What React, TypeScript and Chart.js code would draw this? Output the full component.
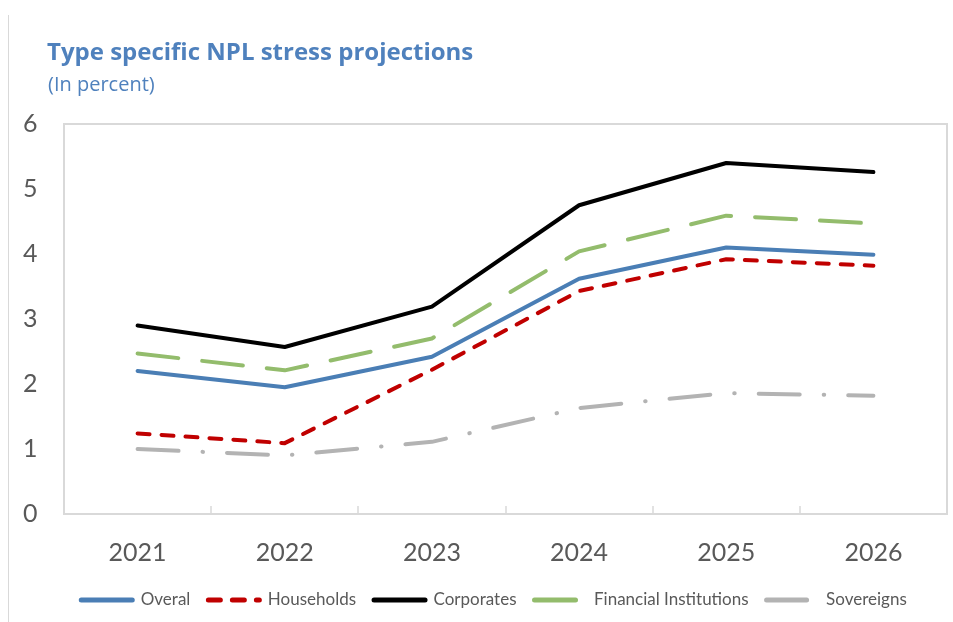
import React, { useEffect, useRef } from "react";
import { Chart, registerables } from "chart.js";

Chart.register(...registerables);

// ---- data ----
const years = ["2021", "2022", "2023", "2024", "2025", "2026"];
const overal = [2.2, 1.95, 2.42, 3.62, 4.1, 3.99];
const households = [1.24, 1.09, 2.22, 3.43, 3.92, 3.82];
const corporates = [2.9, 2.57, 3.19, 4.75, 5.4, 5.26];
const financialInstitutions = [2.47, 2.21, 2.7, 4.04, 4.59, 4.47];
const sovereigns = [1.0, 0.9, 1.11, 1.63, 1.86, 1.82];
const seriesNames = ["Overal", "Households", "Corporates", "Financial Institutions", "Sovereigns"];
const yMin = 0;
const yMax = 6;
const yStep = 1;
const titleText = "Type specific NPL stress projections";
const subtitleText = "(In percent)";

// ---- styles ----
const colors = ["#4A7EB5", "#C00000", "#000000", "#93BC6C", "#B3B3B3"];
const lineDashes = [[], [12, 12], [], [41, 24], [41, 24, 0.5, 24]];
const legendDashes = [[], [12, 12], [], [41, 100], [40, 100]];
const textColor = "#595959";
const FONT = "Lato, 'Open Sans', sans-serif";
const TITLE_FONT = "'Open Sans', Lato, sans-serif";

const frame = {
  id: "frame",
  beforeDatasetsDraw(chart: any) {
    const { ctx, chartArea: a, scales } = chart;
    const x = scales.x;
    ctx.save();
    ctx.strokeStyle = "#D9D9D9";
    ctx.lineWidth = 2;
    ctx.strokeRect(a.left, a.top, a.right - a.left, a.bottom - a.top);
    ctx.lineWidth = 1.5;
    for (let i = 1; i < years.length; i++) {
      const px = Math.round((x.getPixelForValue(i - 1) + x.getPixelForValue(i)) / 2);
      ctx.beginPath();
      ctx.moveTo(px, a.bottom);
      ctx.lineTo(px, a.bottom - 8);
      ctx.stroke();
    }
    ctx.restore();
  },
};

export default function App() {
  const ref = useRef<HTMLCanvasElement | null>(null);

  useEffect(() => {
    if (!ref.current) return;
    const series = [overal, households, corporates, financialInstitutions, sovereigns];
    const chart = new Chart(ref.current, {
      type: "line",
      data: {
        labels: years,
        datasets: series.map((d, i) => ({
          label: seriesNames[i],
          data: d,
          borderColor: colors[i],
          backgroundColor: colors[i],
          borderWidth: 4,
          borderDash: lineDashes[i],
          borderCapStyle: "round",
          borderJoinStyle: "round",
          pointRadius: 0,
          pointHoverRadius: 0,
          tension: 0,
          fill: false,
          order: i,
        })),
      },
      options: {
        animation: false,
        responsive: false,
        maintainAspectRatio: false,
        events: [],
        layout: { padding: { left: 41, right: 6, top: 124, bottom: 3.5 } },
        scales: {
          x: {
            type: "category",
            offset: true,
            grid: { display: false, drawTicks: false },
            border: { display: false },
            ticks: { color: textColor, font: { family: FONT, size: 25 }, padding: 24, maxRotation: 0 },
            afterFit: (s: any) => {
              s.height = 59.5;
            },
          },
          y: {
            min: yMin,
            max: yMax,
            grid: { display: false, drawTicks: false },
            border: { display: false },
            ticks: {
              stepSize: yStep,
              color: textColor,
              font: { family: FONT, size: 25 },
              mirror: true,
              crossAlign: "near",
              padding: -41,
            },
            afterFit: (s: any) => {
              s.width = 23;
            },
          },
        },
        plugins: {
          title: { display: false },
          tooltip: { enabled: false },
          legend: {
            display: true,
            position: "bottom",
            labels: {
              usePointStyle: true,
              pointStyleWidth: 51,
              padding: 18,
              color: textColor,
              font: { family: FONT, size: 17 },
              generateLabels: (c: any) =>
                c.data.datasets.map((ds: any, i: number) => ({
                  text: ds.label,
                  fillStyle: ds.borderColor,
                  strokeStyle: ds.borderColor,
                  lineWidth: 5,
                  lineDash: legendDashes[i],
                  lineCap: "round",
                  pointStyle: "line",
                  hidden: false,
                  datasetIndex: i,
                  fontColor: textColor,
                })),
            },
          },
        },
      },
      plugins: [frame],
    } as any);
    return () => chart.destroy();
  }, []);

  return (
    <div style={{ position: "fixed", left: 0, top: 0, width: 953, height: 622, background: "#fff" }}>
      <canvas ref={ref} width={953} height={622} style={{ position: "absolute", left: 0, top: 0, width: 953, height: 622 }} />
      <div style={{ position: "absolute", left: 8, top: 15, bottom: 0, width: 1, background: "#D9D9D9" }} />
      <div
        style={{
          position: "absolute",
          left: 47,
          top: 34,
          fontFamily: TITLE_FONT,
          fontWeight: 700,
          fontSize: 24,
          lineHeight: "normal",
          color: "#4F81BD",
          whiteSpace: "nowrap",
        }}
      >
        {titleText}
      </div>
      <div
        style={{
          position: "absolute",
          left: 48,
          top: 70,
          fontFamily: TITLE_FONT,
          fontSize: 20,
          lineHeight: "normal",
          color: "#4F81BD",
          whiteSpace: "nowrap",
        }}
      >
        {subtitleText}
      </div>
    </div>
  );
}
